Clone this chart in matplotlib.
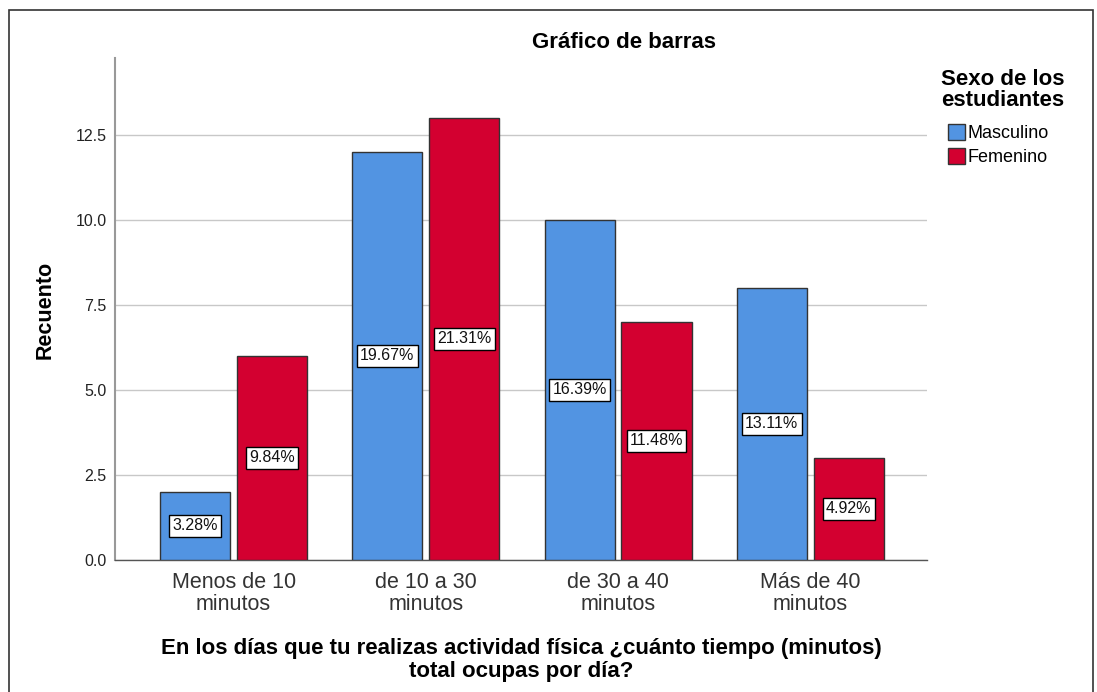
import matplotlib
matplotlib.use("Agg")
import matplotlib.pyplot as plt
from matplotlib.patches import Rectangle
import numpy as np

categories = ["Menos de 10\nminutos", "de 10 a 30\nminutos", "de 30 a 40\nminutos", "Más de 40\nminutos"]
masculino = [2, 12, 10, 8]
femenino = [6, 13, 7, 3]
masc_pct = ["3.28%", "19.67%", "16.39%", "13.11%"]
fem_pct = ["9.84%", "21.31%", "11.48%", "4.92%"]
yticks = [0.0, 2.5, 5.0, 7.5, 10.0, 12.5]

plt.rcParams['font.family'] = ['Liberation Sans', 'DejaVu Sans']

W, H = 1097, 692
fig = plt.figure(figsize=(W/100, H/100), dpi=100)
ax = fig.add_axes([115/W, 1-560/H, (927-115)/W, (560-58)/H])

blue = "#5294E2"
red = "#D30030"
x = np.arange(len(categories))
off = 0.2
bw = 0.365
b1 = ax.bar(x - off, masculino, bw, color=blue, edgecolor="#333333", linewidth=1, label="Masculino", zorder=3)
b2 = ax.bar(x + off, femenino, bw, color=red, edgecolor="#333333", linewidth=1, label="Femenino", zorder=3)

for xi, v, t in zip(x - off, masculino, masc_pct):
    ax.text(xi, v/2, t, ha="center", va="center", fontsize=11.5, zorder=5, color="#111111",
            bbox=dict(boxstyle="square,pad=0.2", fc="white", ec="black", lw=1))
for xi, v, t in zip(x + off, femenino, fem_pct):
    ax.text(xi, v/2, t, ha="center", va="center", fontsize=11.5, zorder=5, color="#111111",
            bbox=dict(boxstyle="square,pad=0.2", fc="white", ec="black", lw=1))

ax.set_xlim(-0.617, 3.607)
ax.set_ylim(0, 14.76)
ax.set_yticks(yticks)
ax.set_yticklabels([f"{v:.1f}" for v in yticks], fontsize=11.5, color="#222222")
ax.set_xticks(x)
ax.set_xticklabels(categories, fontsize=15.5, color="#333333", linespacing=1.05)
ax.tick_params(length=0, pad=6)
ax.tick_params(axis="x", pad=9)
ax.grid(axis="y", color="#c8c8c8", linewidth=1, zorder=0)
for s in ["top", "right"]:
    ax.spines[s].set_visible(False)
ax.spines["left"].set_color("#999999")
ax.spines["left"].set_linewidth(1.5)
ax.spines["bottom"].set_color("#555555")
ax.spines["bottom"].set_linewidth(1)

fig.text(624/W, 1-42/H, "Gráfico de barras", ha="center", va="center", fontsize=16, fontweight="bold")
fig.text(45/W, 1-310/H, "Recuento", ha="center", va="center", rotation=90, fontsize=15.5, fontweight="bold")
fig.text(521/W, 1-660/H, "En los días que tu realizas actividad física ¿cuánto tiempo (minutos)\ntotal ocupas por día?",
         ha="center", va="center", fontsize=16, fontweight="bold", linespacing=1.1)

fig.text(1003/W, 1-90/H, "Sexo de los\nestudiantes", ha="center", va="center", fontsize=16, fontweight="bold", linespacing=1.05)
leg = fig.legend(handles=[b1, b2], labels=["Masculino", "Femenino"], loc="upper left",
                 bbox_to_anchor=(948/W, 1-124/H), frameon=False, fontsize=13,
                 handlelength=0.95, handleheight=1.0, handletextpad=0.15, labelspacing=0.3, borderpad=0, borderaxespad=0)

fig.add_artist(Rectangle((9/W, -0.05), (1093-9)/W, 1.05-10/H, transform=fig.transFigure,
                         fill=False, ec="#333333", lw=1.2))

fig.savefig("out.png", dpi=100)
